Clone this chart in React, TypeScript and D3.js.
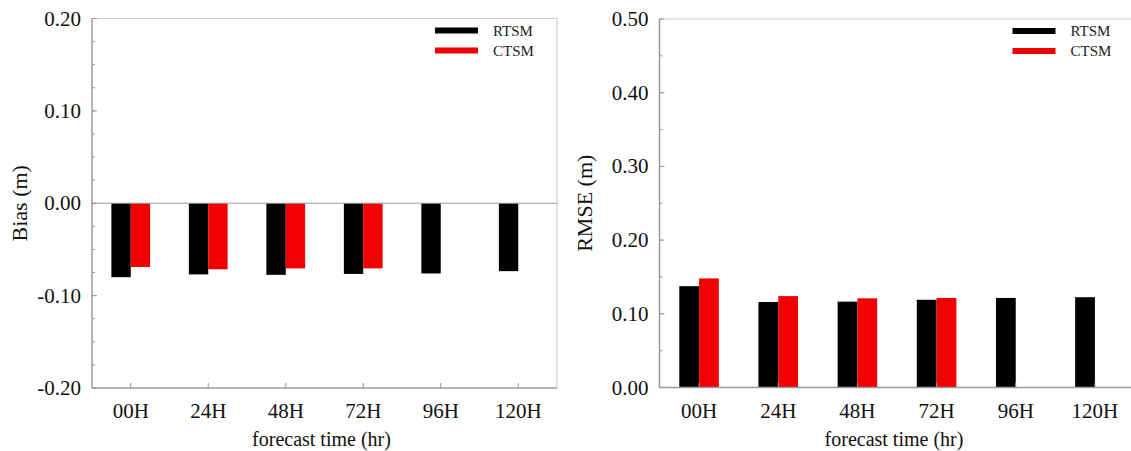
import React from "react";
import * as d3 from "d3";

const categories = ["00H", "24H", "48H", "72H", "96H", "120H"];
const seriesNames = ["RTSM", "CTSM"];
const seriesColors = ["#000000", "#f00000"];

const biasRTSM: (number | null)[] = [-0.08, -0.077, -0.0775, -0.0765, -0.076, -0.0735];
const biasCTSM: (number | null)[] = [-0.069, -0.0715, -0.0705, -0.0705, null, null];
const rmseRTSM: (number | null)[] = [0.1375, 0.116, 0.1165, 0.119, 0.1215, 0.1225];
const rmseCTSM: (number | null)[] = [0.148, 0.124, 0.121, 0.1215, null, null];

const biasTicks = [-0.2, -0.1, 0, 0.1, 0.2];
const rmseTicks = [0, 0.1, 0.2, 0.3, 0.4, 0.5];

const FONT = "Liberation Serif, Times New Roman, DejaVu Serif, serif";

type PanelProps = {
  left: number;
  right: number;
  top: number;
  bottom: number;
  domain: [number, number];
  ticks: number[];
  minorStep: number;
  series: (number | null)[][];
  yTitle: string;
  titleX: number;
  showZero: boolean;
};

function Panel(p: PanelProps) {
  const x = d3.scaleBand<string>().domain(categories).range([p.left, p.right]).padding(0);
  const y = d3.scaleLinear().domain(p.domain).range([p.bottom, p.top]);
  const step = x.step();
  const bw = step * 0.25;
  const minor = d3.range(p.domain[0], p.domain[1] + 1e-9, p.minorStep);
  const axisColor = "#9a9a9a";
  const frameColor = "#cfcfcf";
  const zeroY = y(Math.max(0, p.domain[0]));
  const legendX = p.right - 122;
  const ts = { fontFamily: FONT };
  return (
    <g>
      <line x1={p.left} x2={p.right} y1={p.top} y2={p.top} stroke={frameColor} strokeWidth={1.2} />
      <line x1={p.right} x2={p.right} y1={p.top} y2={p.bottom} stroke={frameColor} strokeWidth={1.2} />
      {categories.map((c, i) => {
        const cx = (x(c) as number) + step / 2;
        return p.series.map((s, si) => {
          const v = s[i];
          if (v == null) return null;
          const x0 = si === 0 ? cx - bw : cx;
          const y0 = Math.min(y(v), zeroY);
          const h = Math.abs(y(v) - zeroY);
          return <rect key={c + si} x={x0} y={y0} width={bw} height={h} fill={seriesColors[si]} />;
        });
      })}
      {p.showZero && (
        <line x1={p.left} x2={p.right} y1={y(0)} y2={y(0)} stroke={axisColor} strokeWidth={1.2} />
      )}
      {minor.map((v, i) => (
        <line key={"m" + i} x1={p.left} x2={p.left + 3} y1={y(v)} y2={y(v)} stroke={axisColor} strokeWidth={1} />
      ))}
      {p.ticks.map((v, i) => (
        <g key={"t" + i}>
          <line x1={p.left} x2={p.left + 5} y1={y(v)} y2={y(v)} stroke={axisColor} strokeWidth={1} />
          <text
            x={p.left - 11}
            y={y(v) + 7}
            textAnchor="end"
            style={ts}
            fontSize={21}
            fill="#111"
          >
            {v.toFixed(2)}
          </text>
        </g>
      ))}
      <line x1={p.left} x2={p.left} y1={p.top} y2={p.bottom} stroke={axisColor} strokeWidth={1.5} />
      <line x1={p.left} x2={p.right} y1={p.bottom} y2={p.bottom} stroke={axisColor} strokeWidth={1.5} />
      {categories.map((c) => {
        const cx = (x(c) as number) + step / 2;
        return (
          <g key={"x" + c}>
            <line x1={cx} x2={cx} y1={p.bottom} y2={p.bottom - 5} stroke={axisColor} strokeWidth={1} />
            <text x={cx} y={p.bottom + 30} textAnchor="middle" style={ts} fontSize={21} fill="#111">
              {c}
            </text>
          </g>
        );
      })}
      <text
        x={(p.left + p.right) / 2 - 3}
        y={p.bottom + 58}
        textAnchor="middle"
        style={ts}
        fontSize={20}
        fill="#111"
      >
        forecast time (hr)
      </text>
      <text
        transform={`translate(${p.titleX},${(p.top + p.bottom) / 2}) rotate(-90)`}
        textAnchor="middle"
        style={ts}
        fontSize={22}
        fill="#111"
      >
        {p.yTitle}
      </text>
      {seriesNames.map((n, i) => (
        <g key={"l" + n}>
          <line
            x1={legendX}
            x2={legendX + 43}
            y1={p.top + 12 + i * 20}
            y2={p.top + 12 + i * 20}
            stroke={seriesColors[i]}
            strokeWidth={6}
          />
          <text
            x={legendX + 58}
            y={p.top + 12 + i * 20 + 5}
            style={ts}
            fontSize={15}
            fill="#222"
          >
            {n}
          </text>
        </g>
      ))}
    </g>
  );
}

export default function App() {
  return (
    <svg
      width={1131}
      height={451}
      style={{ position: "absolute", left: 0, top: 0, background: "#fff" }}
    >
      <rect width={1131} height={451} fill="#fff" />
      <Panel
        left={92}
        right={557}
        top={18.5}
        bottom={388}
        domain={[-0.2, 0.2]}
        ticks={biasTicks}
        minorStep={0.025}
        series={[biasRTSM, biasCTSM]}
        yTitle="Bias (m)"
        titleX={27}
        showZero={true}
      />
      <Panel
        left={659.5}
        right={1134.5}
        top={19}
        bottom={387.5}
        domain={[0, 0.5]}
        ticks={rmseTicks}
        minorStep={0.05}
        series={[rmseRTSM, rmseCTSM]}
        yTitle="RMSE (m)"
        titleX={592}
        showZero={false}
      />
    </svg>
  );
}
